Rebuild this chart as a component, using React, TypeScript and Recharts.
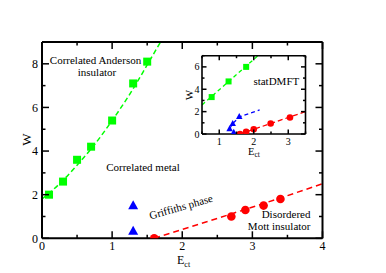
import React from "react";
import { ComposedChart, XAxis, YAxis, Scatter, Line } from "recharts";

// ---------- main panel data ----------
const mainGreenPts = [
  { x: 0.1, y: 2.0 }, { x: 0.3, y: 2.6 }, { x: 0.5, y: 3.6 }, { x: 0.7, y: 4.2 },
  { x: 1.0, y: 5.4 }, { x: 1.3, y: 7.1 }, { x: 1.5, y: 8.1 },
];
const mainGreenFit = [
  { x: 0, y: 1.8 }, { x: 0.25, y: 2.5 }, { x: 0.5, y: 3.35 }, { x: 0.75, y: 4.3 },
  { x: 1.0, y: 5.4 }, { x: 1.25, y: 6.6 }, { x: 1.5, y: 7.95 }, { x: 1.69, y: 9.0 },
];
const mainBluePts = [{ x: 1.3, y: 1.5 }, { x: 1.3, y: 0.33 }];
const mainRedPts = [
  { x: 1.6, y: 0 }, { x: 2.7, y: 1.0 }, { x: 2.9, y: 1.3 }, { x: 3.16, y: 1.5 }, { x: 3.4, y: 1.8 },
];
const mainRedFit = [
  { x: 1.6, y: 0 }, { x: 2.7, y: 1.12 }, { x: 3.4, y: 1.85 }, { x: 4.0, y: 2.5 },
];
const mainXTicks = [0, 0.5, 1, 1.5, 2, 2.5, 3, 3.5, 4];
const mainYTicks = [0, 1, 2, 3, 4, 5, 6, 7, 8, 9];
const mainXLabels = [0, 1, 2, 3, 4];
const mainYLabels = [0, 2, 4, 6, 8];

// ---------- inset data ----------
const insetGreenPts = [{ x: 0.78, y: 3.3 }, { x: 1.27, y: 4.7 }, { x: 1.78, y: 6.0 }];
const insetGreenFit = [{ x: 0.5, y: 2.6 }, { x: 2.12, y: 7.0 }];
const insetBluePts = [{ x: 1.3, y: 0.45 }, { x: 1.42, y: 0.15 }, { x: 1.39, y: 0.94 }, { x: 1.58, y: 1.55 }];
const insetBlueFit = [{ x: 1.3, y: 0.45 }, { x: 1.39, y: 0.94 }, { x: 1.6, y: 1.55 }, { x: 2.17, y: 2.15 }];
const insetRedPts = [
  { x: 1.6, y: 0 }, { x: 1.78, y: 0.2 }, { x: 2.0, y: 0.42 }, { x: 2.49, y: 0.94 }, { x: 3.05, y: 1.48 },
];
const insetRedFit = [{ x: 1.6, y: 0 }, { x: 3.5, y: 2.0 }];
const insetXTicks = [0.5, 1, 1.5, 2, 2.5, 3, 3.5];
const insetYTicks = [0, 1, 2, 3, 4, 5, 6, 7];
const insetXLabels = [1, 2, 3];
const insetYLabels = [0, 2, 4, 6];

const FONT = "'Liberation Serif', 'DejaVu Serif', serif";
const GREEN = "#00ff00";
const RED = "#ff0000";
const BLUE = "#0000ff";

type TickCfg = { labels: number[]; major: number; minor: number; fs: number; gap: number; side: string };

const makeTick = (cfg: TickCfg) => (props: any) => {
  const { x, y, payload } = props;
  const v = payload.value;
  const isMajor = cfg.labels.includes(v);
  const len = isMajor ? cfg.major : cfg.minor;
  let line;
  let label = null;
  if (cfg.side === "bottom") {
    line = <line x1={x} y1={y} x2={x} y2={y - len} stroke="#000" strokeWidth={1.5} />;
    if (isMajor)
      label = (
        <text x={x} y={y + cfg.gap} textAnchor="middle" fontSize={cfg.fs} fontFamily={FONT} fill="#000">
          {v}
        </text>
      );
  } else if (cfg.side === "top") {
    line = <line x1={x} y1={y} x2={x} y2={y + len} stroke="#000" strokeWidth={1.5} />;
  } else if (cfg.side === "left") {
    line = <line x1={x} y1={y} x2={x + len} y2={y} stroke="#000" strokeWidth={1.5} />;
    if (isMajor)
      label = (
        <text x={x - cfg.gap} y={y} dy="0.35em" textAnchor="end" fontSize={cfg.fs} fontFamily={FONT} fill="#000">
          {v}
        </text>
      );
  } else {
    line = <line x1={x} y1={y} x2={x - len} y2={y} stroke="#000" strokeWidth={1.5} />;
  }
  return (
    <g>
      {line}
      {label}
    </g>
  );
};

const square = (s: number, color: string) => (p: any) =>
  <rect x={p.cx - s / 2} y={p.cy - s / 2} width={s} height={s} fill={color} />;
const circle = (r: number, color: string) => (p: any) => <circle cx={p.cx} cy={p.cy} r={r} fill={color} />;
const triangle = (w: number, h: number, color: string) => (p: any) => (
  <polygon
    points={`${p.cx},${p.cy - h * 0.6} ${p.cx - w / 2},${p.cy + h * 0.4} ${p.cx + w / 2},${p.cy + h * 0.4}`}
    fill={color}
  />
);

const axisLine = { stroke: "#000", strokeWidth: 2 };

function MainChart() {
  const mk = (side: string) =>
    makeTick({ labels: side === "left" || side === "right" ? mainYLabels : mainXLabels, major: 7, minor: 3.5, fs: 12, gap: side === "left" ? 4 : 12, side });
  return (
    <ComposedChart width={386} height={273} margin={{ top: 41, right: 62.5, left: 41, bottom: 33.7 }}>
      <XAxis xAxisId="b" type="number" dataKey="x" domain={[0, 4]} ticks={mainXTicks} orientation="bottom" height={1}
        tickSize={0} tickMargin={0} tickLine={false} axisLine={axisLine} tick={mk("bottom")} interval={0} allowDataOverflow />
      <XAxis xAxisId="t" type="number" dataKey="x" domain={[0, 4]} ticks={mainXTicks} orientation="top" height={1}
        tickSize={0} tickMargin={0} tickLine={false} axisLine={axisLine} tick={mk("top")} interval={0} allowDataOverflow />
      <YAxis yAxisId="l" type="number" dataKey="y" domain={[0, 9]} ticks={mainYTicks} orientation="left" width={1}
        tickSize={0} tickMargin={0} tickLine={false} axisLine={axisLine} tick={mk("left")} interval={0} allowDataOverflow />
      <YAxis yAxisId="r" type="number" dataKey="y" domain={[0, 9]} ticks={mainYTicks} orientation="right" width={1}
        tickSize={0} tickMargin={0} tickLine={false} axisLine={axisLine} tick={mk("right")} interval={0} allowDataOverflow />
      <Line xAxisId="b" yAxisId="l" data={mainGreenFit} dataKey="y" type="monotone" stroke={GREEN} strokeWidth={1.5}
        strokeDasharray="5 3" dot={false} isAnimationActive={false} />
      <Line xAxisId="b" yAxisId="l" data={mainRedFit} dataKey="y" type="monotone" stroke={RED} strokeWidth={1.5}
        strokeDasharray="6 4" dot={false} isAnimationActive={false} />
      <Scatter xAxisId="b" yAxisId="l" data={mainGreenPts} dataKey="y" shape={square(8, GREEN)} isAnimationActive={false} />
      <Scatter xAxisId="b" yAxisId="l" data={mainBluePts} dataKey="y" shape={triangle(10, 9, BLUE)} isAnimationActive={false} />
      <Scatter xAxisId="b" yAxisId="l" data={mainRedPts} dataKey="y" shape={circle(4.3, RED)} isAnimationActive={false} />
    </ComposedChart>
  );
}

function InsetChart() {
  const mk = (side: string) =>
    makeTick({ labels: side === "left" || side === "right" ? insetYLabels : insetXLabels, major: 4.5, minor: 2.5, fs: 10, gap: side === "left" ? 2.5 : 10.5, side });
  const axL = { stroke: "#000", strokeWidth: 1.6 };
  return (
    <ComposedChart width={140} height={120} margin={{ top: 14.7, right: 3.5, left: 31, bottom: 25 }}>
      <XAxis xAxisId="b" type="number" dataKey="x" domain={[0.5, 3.5]} ticks={insetXTicks} orientation="bottom" height={1}
        tickSize={0} tickMargin={0} tickLine={false} axisLine={axL} tick={mk("bottom")} interval={0} allowDataOverflow />
      <XAxis xAxisId="t" type="number" dataKey="x" domain={[0.5, 3.5]} ticks={insetXTicks} orientation="top" height={1}
        tickSize={0} tickMargin={0} tickLine={false} axisLine={axL} tick={mk("top")} interval={0} allowDataOverflow />
      <YAxis yAxisId="l" type="number" dataKey="y" domain={[0, 7]} ticks={insetYTicks} orientation="left" width={1}
        tickSize={0} tickMargin={0} tickLine={false} axisLine={axL} tick={mk("left")} interval={0} allowDataOverflow />
      <YAxis yAxisId="r" type="number" dataKey="y" domain={[0, 7]} ticks={insetYTicks} orientation="right" width={1}
        tickSize={0} tickMargin={0} tickLine={false} axisLine={axL} tick={mk("right")} interval={0} allowDataOverflow />
      <Line xAxisId="b" yAxisId="l" data={insetGreenFit} dataKey="y" type="linear" stroke={GREEN} strokeWidth={1.3}
        strokeDasharray="4 3" dot={false} isAnimationActive={false} />
      <Line xAxisId="b" yAxisId="l" data={insetBlueFit} dataKey="y" type="linear" stroke={BLUE} strokeWidth={1.3}
        strokeDasharray="4 3" dot={false} isAnimationActive={false} />
      <Line xAxisId="b" yAxisId="l" data={insetRedFit} dataKey="y" type="linear" stroke={RED} strokeWidth={1.3}
        strokeDasharray="5 3" dot={false} isAnimationActive={false} />
      <Scatter xAxisId="b" yAxisId="l" data={insetGreenPts} dataKey="y" shape={square(6, GREEN)} isAnimationActive={false} />
      <Scatter xAxisId="b" yAxisId="l" data={insetBluePts} dataKey="y" shape={triangle(6.5, 6, BLUE)} isAnimationActive={false} />
      <Scatter xAxisId="b" yAxisId="l" data={insetRedPts} dataKey="y" shape={circle(3.3, RED)} isAnimationActive={false} />
    </ComposedChart>
  );
}

const T = (p: any) => <text fontFamily={FONT} fill="#000" {...p} />;

export default function App() {
  return (
    <div style={{ position: "absolute", left: 0, top: 0, width: 386, height: 273, background: "#fff", overflow: "hidden" }}>
      <div style={{ position: "absolute", left: 0, top: 0 }}>
        <MainChart />
      </div>
      <div style={{ position: "absolute", left: 170, top: 40 }}>
        <InsetChart />
      </div>
      <svg width={386} height={273} style={{ position: "absolute", left: 0, top: 0, pointerEvents: "none" }}>
        <T x={95.5} y={64} fontSize={11} textAnchor="middle">Correlated Anderson</T>
        <T x={97} y={75.5} fontSize={11} textAnchor="middle">insulator</T>
        <T x={143} y={170.5} fontSize={11} textAnchor="middle">Correlated metal</T>
        <T x={182} y={210.5} fontSize={11} textAnchor="middle" transform="rotate(-16 182 210.5)">Griffiths phase</T>
        <T x={310.5} y={218.3} fontSize={11} textAnchor="end">Disordered</T>
        <T x={310.5} y={230} fontSize={11} textAnchor="end">Mott insulator</T>
        <T x={276.3} y={85} fontSize={11} textAnchor="middle">statDMFT</T>
        <T x={31} y={139.5} fontSize={13} textAnchor="middle" transform="rotate(-90 31 139.5)">W</T>
        <T x={177} y={264} fontSize={12}>E<tspan fontSize={8} dy={2.5}>ct</tspan></T>
        <T x={192.5} y={95} fontSize={11} textAnchor="middle" transform="rotate(-90 192.5 95)">W</T>
        <T x={248} y={155} fontSize={10.5}>E<tspan fontSize={7.5} dy={2}>ct</tspan></T>
      </svg>
    </div>
  );
}
